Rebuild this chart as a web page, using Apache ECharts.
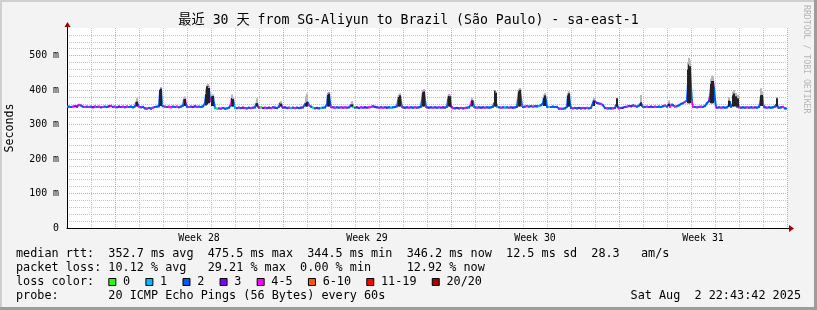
<!DOCTYPE html>
<html><head><meta charset="utf-8">
<script src="https://cdn.jsdelivr.net/npm/echarts@6/dist/echarts.min.js"></script>
<style>html,body{margin:0;padding:0;background:#f3f3f3}#c{width:817px;height:310px}</style>
</head><body><div id="c"></div>
<script>
// ---- data: median rtt, rows of [hour since start, ms, lost pings of 20] ----
const medianDays0to5 = [[0,352,2],[2,352,4],[4,351,2],[6,352,2],[8,353,4],[10,352,3],[12,357,3],[14,355,4],[16,352,2],[18,351,2],[20,352,4],[22,351,2],[24,352,4],[26,350,2],[28,352,3],[30,351,4],[32,352,2],[34,350,4],[36,351,2],[38,352,4],[40,351,2],[42,353,2],[44,354,3],[46,351,4],[48,352,2],[50,350,4],[52,352,2],[54,351,3],[56,352,2],[58,350,4],[60,352,2],[62,351,4],[64,352,2],[66,350,2],[68,353,2],[69,362,2],[70,366,2],[71,356,3],[72,352,2],[74,350,4],[76,351,2],[78,347,2],[80,346,2],[82,348,4],[84,346,2],[86,349,2],[88,351,4],[90,352,2],[92,353,2],[93,395,2],[94,404,2],[95,356,2],[96,353,1],[98,352,2],[100,351,4],[102,352,2],[104,350,4],[106,352,4],[108,351,2],[110,352,2],[112,350,4],[114,352,2],[116,355,2],[117,370,2],[118,376,3],[119,358,4]];
const medianDays5to10 = [[120,352,2],[122,351,2],[124,352,4],[126,351,2],[128,353,3],[130,351,2],[132,352,4],[134,351,2],[136,353,2],[138,362,2],[139,386,2],[140,406,3],[141,413,4],[142,405,3],[143,372,2],[144,368,2],[145,382,4],[146,383,4],[147,362,2],[148,348,2],[150,346,1],[152,347,0],[154,346,2],[156,348,4],[158,346,2],[160,347,2],[162,349,2],[164,358,2],[165,379,4],[166,376,3],[167,358,2],[168,349,1],[170,348,1],[172,349,2],[174,348,4],[176,349,2],[178,348,3],[180,347,4],[182,349,2],[184,348,2],[186,349,4],[188,350,2],[189,358,2],[190,362,2],[191,352,2],[192,349,4],[194,350,2],[196,348,0],[198,349,3],[200,348,4],[202,349,2],[204,348,3],[206,350,4],[208,349,2],[210,348,3],[212,352,2],[213,360,2],[214,362,3],[215,352,2],[216,349,4],[218,350,2],[220,348,3],[222,349,2],[224,348,4],[226,349,1],[228,348,2],[230,349,4],[232,348,2],[234,349,2],[236,350,3],[238,358,2],[239,364,2]];
const medianDays10to15 = [[240,366,4],[241,362,2],[242,356,2],[244,352,4],[246,349,2],[248,347,0],[250,348,2],[252,347,3],[254,348,2],[256,349,1],[258,350,2],[260,358,2],[261,388,2],[262,391,4],[263,365,2],[264,351,2],[266,350,4],[268,349,2],[270,350,4],[272,349,2],[274,350,2],[276,349,4],[278,350,2],[280,349,4],[282,350,2],[284,355,2],[285,360,3],[286,351,2],[288,349,0],[290,350,2],[292,348,3],[294,350,2],[296,349,4],[298,350,2],[300,349,3],[302,350,2],[304,351,4],[306,353,4],[308,351,2],[310,350,3],[312,349,2],[314,350,4],[316,349,2],[318,350,4],[320,349,2],[322,350,3],[324,349,2],[326,350,1],[328,351,2],[330,353,2],[331,368,2],[332,382,2],[333,386,1],[334,365,2],[335,352,2],[336,350,4],[338,349,2],[340,350,3],[342,349,2],[344,350,4],[346,349,2],[348,350,2],[350,349,4],[352,350,2],[354,352,2],[355,372,2],[356,395,4],[357,398,3],[358,370,2],[359,352,2]];
const medianDays15to20 = [[360,350,4],[362,349,2],[364,350,3],[366,349,2],[368,350,4],[370,349,2],[372,350,2],[374,349,4],[376,350,2],[378,349,3],[380,352,2],[381,370,2],[382,385,3],[383,382,4],[384,353,2],[386,348,3],[388,347,4],[390,348,2],[392,347,3],[394,348,2],[396,347,4],[398,348,2],[400,349,4],[402,350,2],[404,358,2],[405,372,4],[406,366,3],[407,352,2],[408,350,1],[410,349,2],[412,350,4],[414,349,2],[416,350,3],[418,349,2],[420,350,4],[422,349,2],[424,350,2],[426,352,2],[427,360,2],[428,364,2],[429,362,2],[430,352,2],[432,350,1],[434,349,2],[436,350,4],[438,349,2],[440,350,1],[442,349,2],[444,350,4],[446,349,2],[448,350,3],[450,351,2],[451,375,2],[452,398,4],[453,402,3],[454,375,2],[455,355,2],[456,351,4],[458,352,2],[460,353,2],[462,352,4],[464,353,2],[466,352,2],[468,353,4],[470,353,2],[472,354,2],[474,356,1],[476,362,2],[477,380,2],[478,386,1],[479,370,2]];
const medianDays20to25 = [[480,352,2],[482,351,2],[484,351,1],[486,352,2],[488,351,2],[490,351,2],[492,346,2],[494,346,2],[496,346,4],[498,347,2],[500,352,2],[501,386,2],[502,392,1],[503,360,2],[504,348,2],[506,347,2],[508,348,4],[510,347,2],[512,348,2],[514,347,3],[516,348,2],[518,347,4],[520,348,2],[522,347,4],[524,349,2],[526,362,2],[527,372,2],[528,366,4],[530,363,2],[532,361,3],[534,360,2],[536,356,4],[538,348,2],[540,347,2],[542,347,4],[544,347,2],[546,347,2],[548,348,4],[549,355,2],[550,358,2],[551,350,2],[552,347,2],[554,348,4],[556,349,2],[558,351,3],[560,352,2],[562,354,4],[564,353,2],[566,355,3],[568,354,2],[570,352,4],[572,355,2],[573,358,2],[574,362,3],[575,355,2],[576,352,4],[578,351,2],[580,352,2],[582,351,4],[584,352,2],[586,351,3],[588,352,2],[590,351,4],[592,352,2],[594,351,2],[596,353,2],[598,355,2]];
const medianDays25to30 = [[600,352,4],[602,360,2],[603,352,2],[605,358,4],[606,356,2],[608,352,2],[610,353,4],[612,356,2],[614,360,2],[616,362,2],[618,366,2],[620,370,4],[621,420,2],[622,475,7],[623,470,7],[624,410,2],[625,365,2],[626,352,4],[628,351,4],[630,350,2],[632,351,4],[634,352,2],[636,351,4],[638,354,2],[640,362,2],[642,368,2],[643,385,3],[644,410,4],[645,429,4],[646,425,4],[647,405,3],[648,372,2],[649,352,2],[650,349,4],[652,350,2],[654,349,2],[656,350,4],[658,349,2],[660,350,2],[662,355,2],[663,365,2],[664,352,2],[666,360,2],[667,385,1],[668,360,2],[669,365,3],[670,352,2],[671,362,2],[672,350,2],[674,349,4],[676,350,2],[678,349,2],[680,350,2],[682,349,4],[684,350,2],[686,349,2],[688,350,4],[690,349,2],[692,351,2],[693,362,2],[694,380,4],[695,388,3],[696,362,2],[697,352,4],[698,350,2],[700,349,2],[702,350,4],[704,349,2],[706,350,2],[708,352,2],[709,356,2],[710,358,2],[711,350,2],[712,349,4],[714,350,2],[716,351,2],[718,347,4],[720,346,2]];
// smoke: [hour, low ms, dark top ms, light top ms]
const smoke = [[70,352,366,378],[93,354,400,404],[94,354,404,407],[118,354,374,381],[139,355,388,392],[140,358,410,414],[141,362,411,416],[142,362,406,410],[145,354,381,386],[146,354,383,387],[165,352,377,387],[166,352,374,380],[190,352,362,376],[214,352,360,368],[239,352,362,382],[240,352,366,390],[261,352,386,390],[262,352,389,394],[285,352,358,368],[332,352,380,384],[333,352,384,389],[356,352,393,398],[357,352,396,403],[382,352,383,388],[383,352,381,385],[405,352,370,378],[428,352,398,400],[429,352,392,396],[452,352,396,402],[453,352,400,406],[477,354,378,384],[478,354,384,390],[501,352,384,388],[502,352,390,395],[527,354,370,376],[550,352,376,378],[574,354,364,386],[602,354,360,370],[621,362,460,480],[622,362,474,494],[623,362,468,486],[644,362,418,432],[645,362,426,442],[646,362,426,438],[662,352,370,380],[666,352,385,395],[667,352,390,400],[669,352,382,392],[671,352,376,386],[694,354,385,405],[695,354,386,396],[710,352,376,380]];
const weekLabelHours = [132,300,468,636];
const weekLabels = ['Week 28','Week 29','Week 30','Week 31'];
const lossLabels = ['0','1','2','3','4-5','6-10','11-19','20/20'];
const lossUpper = [0,1,2,3,5,10,19,20];
const lossColors = ['#26ff00','#00b8ff','#0059ff','#7e00ff','#ff00ff','#ff5500','#ff0000','#a10000'];
const titleText = '最近 30 天 from SG-Aliyun to Brazil (São Paulo) - sa-east-1';
const legendLine1 = 'median rtt:  352.7 ms avg  475.5 ms max  344.5 ms min  346.2 ms now  12.5 ms sd  28.3   am/s';
const legendLine2 = 'packet loss: 10.12 % avg   29.21 % max  0.00 % min     12.92 % now';
const legendLine3 = 'loss color:';
const legendLine4 = 'probe:       20 ICMP Echo Pings (56 Bytes) every 60s';
const stampText = 'Sat Aug  2 22:43:42 2025';
const creditText = 'RRDTOOL / TOBI OETIKER';

const median = [].concat(medianDays0to5, medianDays5to10, medianDays10to15, medianDays15to20, medianDays20to25, medianDays25to30);
function lossColor(n){ for (let i=0;i<lossUpper.length;i++){ if (n<=lossUpper[i]) return lossColors[i]; } return lossColors[lossColors.length-1]; }

const MONO = '"DejaVu Sans Mono","Noto Sans CJK SC",monospace';
const GRAY = '#c4c4c4', RED = '#ec9a9a', NONE = 'rgba(0,0,0,0)';
const xLineColors = []; for (let j=0;j<14;j++) xLineColors.push(j===4?RED:(j%2===0?GRAY:NONE));
const yLineColors = [RED,GRAY,GRAY,GRAY,GRAY];

const chart = echarts.init(document.getElementById('c'), null, {renderer:'canvas'});

const graphics = [
  {type:'rect', shape:{x:0,y:0,width:817,height:2}, style:{fill:'#cfcfcf'}, silent:true},
  {type:'rect', shape:{x:0,y:0,width:2,height:310}, style:{fill:'#cfcfcf'}, silent:true},
  {type:'rect', shape:{x:0,y:307,width:817,height:3}, style:{fill:'#9c9c9c'}, silent:true},
  {type:'rect', shape:{x:814,y:0,width:3,height:310}, style:{fill:'#9c9c9c'}, silent:true},
  {type:'text', x:408.5, y:21, style:{text:titleText, font:'13.2px '+MONO, fill:'#000', align:'center', verticalAlign:'middle'}},
  {type:'text', x:806, y:5, rotation:-Math.PI/2, style:{text:creditText, font:'8.2px '+MONO, fill:'#b5b5b5', align:'left', verticalAlign:'middle'}},
  {type:'text', x:16, y:254, style:{text:legendLine1, font:'11.8px '+MONO, fill:'#000', verticalAlign:'middle'}},
  {type:'text', x:16, y:268, style:{text:legendLine2, font:'11.8px '+MONO, fill:'#000', verticalAlign:'middle'}},
  {type:'text', x:16, y:282, style:{text:legendLine3, font:'11.8px '+MONO, fill:'#000', verticalAlign:'middle'}},
  {type:'text', x:16, y:296, style:{text:legendLine4, font:'11.8px '+MONO, fill:'#000', verticalAlign:'middle'}},
  {type:'text', x:801, y:296, style:{text:stampText, font:'11.8px '+MONO, fill:'#000', align:'right', verticalAlign:'middle'}}
];
// loss colour legend boxes
(function(){
  const cw = 7.09; let bx = 108.3;
  for (let i=0;i<lossLabels.length;i++){
    graphics.push({type:'rect', shape:{x:bx+0.5,y:278.5,width:7,height:7}, style:{fill:lossColors[i], stroke:'#000', lineWidth:1}});
    graphics.push({type:'text', x:bx+14.7, y:282, style:{text:lossLabels[i], font:'11.8px '+MONO, fill:'#000', verticalAlign:'middle'}});
    bx = bx + 14.7 + lossLabels[i].length*cw + 15.3;
  }
})();

chart.setOption({
  animation:false,
  backgroundColor:'#f3f3f3',
  grid:{left:67, top:28, width:720, height:200, show:true, backgroundColor:'#ffffff', borderWidth:0, containLabel:false, outerBoundsMode:'none'},
  xAxis:{type:'value', min:0, max:720, interval:12,
    axisLine:{show:true, onZero:false, lineStyle:{color:'#000', width:1}},
    axisTick:{show:false},
    axisLabel:{show:true, showMinLabel:true, showMaxLabel:true, margin:5, color:'#000', fontFamily:MONO, fontSize:9.9,
      formatter:function(v){ const k = weekLabelHours.indexOf(v); return k>=0 ? weekLabels[k] : ''; }},
    splitLine:{show:true, showMinLine:true, showMaxLine:true, lineStyle:{color:xLineColors, width:1, type:[1,1]}}
  },
  yAxis:{type:'value', min:0, max:580, interval:20,
    name:'Seconds', nameLocation:'middle', nameRotate:90, nameGap:51,
    nameTextStyle:{fontFamily:MONO, fontSize:11.6, color:'#000'},
    axisLine:{show:true, lineStyle:{color:'#000', width:1}},
    axisTick:{show:false},
    axisLabel:{margin:8, color:'#000', fontFamily:MONO, fontSize:9.9,
      formatter:function(v){ if (v % 100 !== 0) return ''; return v===0 ? '0' : v + ' m'; }},
    splitLine:{show:true, showMinLine:true, showMaxLine:false, lineStyle:{color:yLineColors, width:1, type:[1,1]}}
  },
  graphic:graphics,
  series:[
    {type:'custom', name:'median', z:2, clip:true,
      data:median,
      encode:{x:0, y:1},
      renderItem:function(params, api){
        const i = params.dataIndex;
        if (i >= median.length-1) return null;
        const a = median[i], b = median[i+1];
        const p1 = api.coord([a[0], a[1]]);
        const p2 = api.coord([b[0], b[1]]);
        return {type:'line', shape:{x1:p1[0], y1:p1[1], x2:p2[0], y2:p2[1]},
          style:{stroke:lossColor(b[2]), lineWidth:2, lineCap:'square'}};
      }
    },
    {type:'custom', name:'smoke', z:3, clip:true,
      data:smoke,
      encode:{x:0, y:[1,2,3]},
      renderItem:function(params, api){
        const h = api.value(0);
        const lo = api.coord([h, api.value(1)]);
        const hi = api.coord([h, api.value(2)]);
        const tp = api.coord([h, api.value(3)]);
        const w = 2;
        return {type:'group', children:[
          {type:'rect', shape:{x:lo[0]-1, y:tp[1], width:w, height:hi[1]-tp[1]}, style:{fill:'#b8b8b8'}},
          {type:'rect', shape:{x:lo[0]-1, y:hi[1], width:w, height:lo[1]-hi[1]}, style:{fill:'#232323'}}
        ]};
      }
    }
  ]
});

// axis arrows at the ends of the axes
(function(){
  const o = chart.convertToPixel({gridIndex:0}, [0,0]);
  const e = chart.convertToPixel({gridIndex:0}, [720,580]);
  const ox = Math.round(o[0])+0.5, oy = Math.round(o[1])+0.5;
  const extra = [
    {type:'line', shape:{x1:e[0], y1:oy, x2:e[0]+3, y2:oy}, style:{stroke:'#000', lineWidth:1}},
    {type:'polygon', shape:{points:[[e[0]+2,oy-3.5],[e[0]+7,oy],[e[0]+2,oy+3.5]]}, style:{fill:'#a00000'}},
    {type:'line', shape:{x1:ox, y1:e[1], x2:ox, y2:e[1]-2}, style:{stroke:'#000', lineWidth:1}},
    {type:'polygon', shape:{points:[[ox-3,e[1]-1],[ox,e[1]-6],[ox+3,e[1]-1]]}, style:{fill:'#a00000'}}
  ];
  chart.setOption({graphic: graphics.concat(extra)});
})();
</script>
</body></html>
